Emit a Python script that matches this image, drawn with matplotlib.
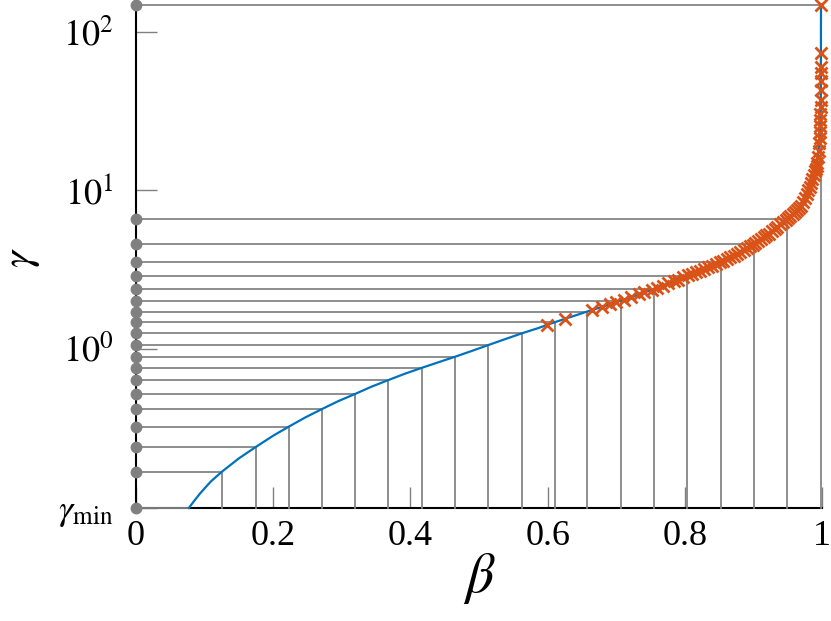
import numpy as np
import matplotlib
matplotlib.use('Agg')
import matplotlib.pyplot as plt
from matplotlib.ticker import NullLocator

# grid points marked on the gamma axis and on the curve
beta_grid = [0.077, 0.125, 0.175, 0.223, 0.271, 0.319, 0.368, 0.417, 0.465, 0.513,
             0.563, 0.611, 0.657, 0.707, 0.755, 0.803, 0.853, 0.901, 0.949, 0.9985]
gamma_grid = [0.098, 0.166, 0.239, 0.321, 0.414, 0.515, 0.632, 0.756, 0.887, 1.05,
              1.25, 1.47, 1.71, 2.01, 2.38, 2.89, 3.54, 4.59, 6.6, 149]

# blue curve gamma(beta)
beta_curve = [0.077, 0.085, 0.093, 0.101, 0.110, 0.125, 0.150, 0.175, 0.200, 0.223,
              0.247, 0.271, 0.295, 0.319, 0.343, 0.368, 0.392, 0.417, 0.441, 0.465,
              0.490, 0.513, 0.538, 0.563, 0.587, 0.611, 0.634, 0.657, 0.682, 0.707,
              0.731, 0.755, 0.779, 0.803, 0.828, 0.853, 0.877, 0.901, 0.924, 0.949,
              0.957, 0.968, 0.975, 0.9825, 0.988, 0.992, 0.995, 0.997, 0.998, 0.9984,
              0.9985]
gamma_curve = [0.098, 0.109, 0.1205, 0.132, 0.1455, 0.166, 0.202, 0.239, 0.281, 0.321,
               0.367, 0.414, 0.465, 0.515, 0.573, 0.632, 0.693, 0.756, 0.819, 0.887,
               0.967, 1.05, 1.146, 1.25, 1.35, 1.47, 1.585, 1.71, 1.85, 2.01,
               2.18, 2.38, 2.62, 2.89, 3.19, 3.54, 3.97, 4.59, 5.33, 6.6,
               7.1, 7.9, 8.95, 10.6, 12.5, 14.2, 17.8, 23.5, 37, 74,
               149]

# orange samples
beta_pts = [0.5996, 0.625, 0.664, 0.679, 0.691, 0.700, 0.711, 0.722, 0.733, 0.741,
            0.752, 0.760, 0.768, 0.776, 0.784, 0.790, 0.797, 0.804, 0.810, 0.816,
            0.822, 0.828, 0.834, 0.840, 0.846, 0.851, 0.856, 0.861, 0.866, 0.871,
            0.876, 0.881, 0.886, 0.890, 0.895, 0.899, 0.903, 0.907, 0.911, 0.915,
            0.919, 0.923, 0.927, 0.931, 0.935, 0.939, 0.943, 0.947, 0.951, 0.954,
            0.957, 0.960, 0.963, 0.966, 0.969, 0.972, 0.975, 0.978, 0.980, 0.982,
            0.984, 0.986, 0.988, 0.990, 0.991, 0.992, 0.993, 0.994, 0.995, 0.996,
            0.9965, 0.997, 0.9973, 0.9975, 0.9977, 0.9979, 0.998, 0.9981, 0.9982, 0.9983,
            0.9984, 0.9984, 0.9985]
gamma_pts = [1.41, 1.54, 1.74, 1.83, 1.91, 1.96, 2.04, 2.12, 2.21, 2.27,
             2.36, 2.42, 2.49, 2.58, 2.66, 2.73, 2.82, 2.90, 2.97, 3.04,
             3.11, 3.19, 3.27, 3.35, 3.44, 3.51, 3.59, 3.68, 3.77, 3.87,
             3.96, 4.08, 4.21, 4.31, 4.44, 4.55, 4.64, 4.77, 4.91, 5.05,
             5.19, 5.33, 5.50, 5.69, 5.89, 6.10, 6.30, 6.50, 6.72, 6.90,
             7.1, 7.3, 7.5, 7.75, 8.0, 8.45, 8.95, 9.55, 10.0, 10.5,
             11.1, 11.8, 12.5, 13.3, 13.7, 14.2, 15.0, 16.2, 17.8, 20.0,
             21.5, 23.5, 25.5, 28, 30.5, 33.9, 37.4, 43.3, 48.9, 55,
             60.8, 73.8, 149]

gamma_min = gamma_grid[0]
grey = '#858585'

plt.rcParams['font.family'] = 'Liberation Serif'
plt.rcParams['mathtext.fontset'] = 'stix'

fig = plt.figure(figsize=(8.31, 6.21), dpi=100)
ax = fig.add_axes([0.1637, 0.182, 0.8255, 0.80995])

for b, g in zip(beta_grid, gamma_grid):
    ax.plot([0, b], [g, g], color=grey, lw=1.3, zorder=3, clip_on=False)
    ax.plot([b, b], [gamma_min, g], color=grey, lw=1.3, zorder=3, clip_on=False)

ax.plot(beta_curve, gamma_curve, color='#0072BD', lw=1.6, zorder=4, clip_on=False)
ax.plot(beta_pts, gamma_pts, 'x', color='#D95319', ms=8, mew=2, zorder=6, clip_on=False)
ax.plot(np.zeros(len(gamma_grid)), gamma_grid, 'o', color='#808080', ms=7.5,
        zorder=7, clip_on=False)

ax.set_yscale('log')
ax.set_xlim(0, 1)
ax.set_ylim(gamma_min, gamma_grid[-1])

for s in ['top', 'right']:
    ax.spines[s].set_visible(False)
for s in ['left', 'bottom']:
    ax.spines[s].set_linewidth(1.5)

ax.set_xticks([0, 0.2, 0.4, 0.6, 0.8, 1])
ax.set_xticklabels(['0', '0.2', '0.4', '0.6', '0.8', '1'])
ax.set_yticks([gamma_min, 1, 10, 100])
ax.set_yticklabels([r'$\gamma_{\mathrm{min}}$', r'$10^0$', r'$10^1$', r'$10^2$'])
ax.yaxis.set_minor_locator(NullLocator())
ax.tick_params(direction='in', length=15, width=1, color='#808080',
               labelsize=26)
ax.tick_params(axis='x', pad=9)
ax.tick_params(axis='y', pad=16)

ax.set_xlabel(r'$\beta$', fontsize=40)
ax.xaxis.set_label_coords(0.5, -0.085)
ax.set_ylabel(r'$\gamma$', fontsize=31)
ax.yaxis.set_label_coords(-0.137, 0.497)

fig.savefig('out.png', dpi=100)
